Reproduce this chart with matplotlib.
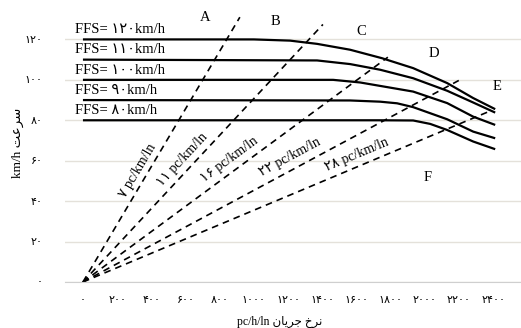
import numpy as np
import matplotlib.pyplot as plt

plt.rcParams['font.family'] = ['Liberation Serif', 'DejaVu Sans']

# منحنی های سرعت-جریان برای هر FFS
ffs = [120, 110, 100, 90, 80]
flow_curves = [
  [0, 1000, 1212, 1370, 1563, 1750, 1932, 2131, 2283, 2412],
  [0, 1370, 1563, 1739, 1932, 2131, 2283, 2412],
  [0, 1464, 1622, 1739, 1932, 2131, 2283, 2412],
  [0, 1563, 1739, 1838, 1932, 2131, 2283, 2412],
  [0, 1739, 1932, 2032, 2131, 2283, 2412],
]
speed_curves = [
  [120, 120, 119.4, 117.8, 114.9, 110.7, 105.8, 98.4, 91, 85.5],
  [110, 109.6, 107.8, 105, 100.8, 94.6, 88.8, 83.8],
  [100, 100, 98.7, 97, 94.2, 88.5, 81.8, 77.7],
  [90, 89.8, 89.2, 88.4, 86.5, 80.5, 74.4, 71.1],
  [80, 80, 79.9, 78.2, 75.2, 69.5, 65.7],
]

# خطوط چگالی (LOS)
density = [7, 11, 16, 22, 28]
dens_end_flow = [918, 1404, 1784, 2199, 2380]
dens_end_speed = [131, 127.4, 111.2, 99.7, 84.5]
dens_label_pos = [(318, 55), (582, 60.5), (858, 60.5), (1208, 61.8), (1600, 62.8)]

los = ['A', 'B', 'C', 'D', 'E', 'F']
los_pos = [(713, 131), (1129, 129), (1626, 124), (2053, 113), (2421, 96.8), (2018, 51.9)]

fa_digits = str.maketrans('0123456789', '۰۱۲۳۴۵۶۷۸۹')
xticks = list(range(0, 2401, 200))
yticks = list(range(0, 121, 20))

# شکل دادن حروف فارسی (matplotlib حروف را به هم نمی چسباند)
FORMS = {
  'س': '\uFEB1\uFEB2\uFEB3\uFEB4', 'ر': '\uFEAD\uFEAE',
  'ع': '\uFEC9\uFECA\uFECB\uFECC', 'ت': '\uFE95\uFE96\uFE97\uFE98',
  'ن': '\uFEE5\uFEE6\uFEE7\uFEE8', 'خ': '\uFEA5\uFEA6\uFEA7\uFEA8',
  'ج': '\uFE9D\uFE9E\uFE9F\uFEA0', 'ی': '\uFBFC\uFBFD\uFBFE\uFBFF',
  'ا': '\uFE8D\uFE8E',
}

def shape(text):
  words = []
  for w in text.split():
    out = []
    for i, ch in enumerate(w):
      f = FORMS[ch]
      prev = i > 0 and len(FORMS[w[i-1]]) == 4
      nxt = len(f) == 4 and i + 1 < len(w)
      out.append(f[(1 if prev else 0) + (2 if nxt else 0)])
    words.append(''.join(reversed(out)))
  return ' '.join(reversed(words))

fig = plt.figure(figsize=(5.21, 3.28), dpi=100)
ax = fig.add_axes([65/521, 46/328, 456/521, 282/328])
ax.set_xlim(-105, 2563)
ax.set_ylim(0, 139.5)

for f, x, y in zip(ffs, flow_curves, speed_curves):
  ax.plot(x, y, color='black', lw=1.6, solid_capstyle='butt')
  ax.annotate('FFS= ' + str(f).translate(fa_digits) + 'km/h', (-47, f),
              xytext=(0, 7), textcoords='offset points', va='center', ha='left', fontsize=10.5)

for k, xe, ye, (lx, ly) in zip(density, dens_end_flow, dens_end_speed, dens_label_pos):
  ax.plot([0, xe], [0, ye], color='black', lw=1.2, linestyle=(0, (4, 3)))
  ang = np.degrees(np.arctan2(ye, xe))
  ax.text(lx, ly, str(k).translate(fa_digits) + ' pc/km/ln', rotation=ang,
          transform_rotates_text=True, rotation_mode='anchor',
          ha='center', va='center', fontsize=10)

for l, (x, y) in zip(los, los_pos):
  ax.text(x, y, l, ha='center', va='center', fontsize=10.5)

ax.set_xticks(xticks)
ax.set_xticklabels([str(t).translate(fa_digits) for t in xticks], fontsize=8)
ax.set_yticks(yticks)
ax.set_yticklabels([str(t).translate(fa_digits) for t in yticks], fontsize=8)
ax.tick_params(length=0)
ax.tick_params(axis='x', pad=10)
ax.tick_params(axis='y', pad=16)
ax.grid(axis='y', color='#e4e1da', lw=1)
ax.set_axisbelow(True)
for s in ['top', 'right', 'left']:
  ax.spines[s].set_visible(False)
ax.spines['bottom'].set_color('#cfcfcf')

fig.text(18/521, 1 - 143/328, 'km/h ' + shape('سرعت'), rotation=90,
         ha='center', va='center', fontsize=9.5)
fig.text(280/521, 1 - 322/328, 'pc/h/ln ' + shape('نرخ جریان'),
         ha='center', va='center', fontsize=8.5)

plt.savefig('out.png', dpi=100)
